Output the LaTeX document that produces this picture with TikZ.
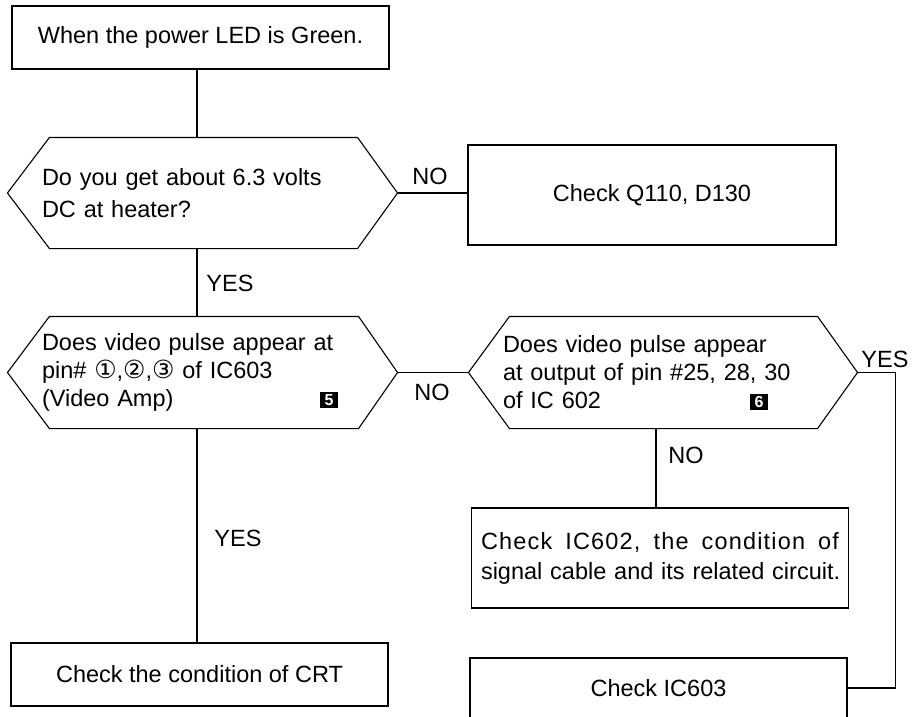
\documentclass[tikz,border=0pt]{standalone}
\usepackage{fontspec}
\setmainfont{Liberation Sans}
\newfontfamily\symfont{DejaVu Sans}
\newcommand\blk[1]{\raisebox{-1pt}{\setlength{\fboxsep}{0pt}\colorbox{black}{\makebox[18pt]{\rule{0pt}{16pt}\raisebox{2pt}{\textcolor{white}{\fontsize{16}{16}\selectfont\bfseries #1}}}}}}
\newcommand\cn[1]{{\symfont\fontsize{25}{25}\selectfont #1}}
\newcommand\hexpath[3]{\draw (#1.west) -- ([xshift=#2]#1.north west) -- ([xshift=-#3]#1.north east) -- (#1.east) -- ([xshift=-#3]#1.south east) -- ([xshift=#2]#1.south west) -- cycle;}
\begin{document}
\begin{tikzpicture}[x=1pt,y=-1pt, line width=1.1pt,
  every node/.style={font=\fontsize{23.5}{29}\selectfont},
  box/.style={draw, inner sep=0pt, align=center},
  hex/.style={inner sep=0pt, align=left},
  lbl/.style={inner sep=0pt}]
\clip (0,0) rectangle (916,717);
\fill[white] (0,0) rectangle (916,717);

\node[box, minimum width=377, minimum height=63] (start) at (200.5,37.5) {When the power LED is Green.};

\node[hex, minimum width=389, minimum height=110, text width=321, font=\fontsize{23.5}{32}\selectfont] (h1) at (202.5,193) {Do you get about 6.3 volts\\DC at heater?};
\hexpath{h1}{42}{40}

\node[box, minimum width=368, minimum height=100] (q110) at (652,195) {Check Q110, D130};

\node[hex, minimum width=389, minimum height=111, text width=321, font=\fontsize{23.5}{28}\selectfont] (h2) at (202.5,372.5) {Does video pulse appear at\\pin\# \cn{①},\cn{②},\cn{③} of IC603\\\makebox[278pt][l]{(Video Amp)}\blk{5}};
\hexpath{h2}{42}{39}

\node[hex, minimum width=388, minimum height=111, text width=320, font=\fontsize{23.5}{28}\selectfont] (h3) at (663,372.5) {Does video pulse appear\\at output of pin \#25, 28, 30\\\makebox[247pt][l]{of IC 602}\blk{6}};
\hexpath{h3}{41}{40}

\node[box, minimum width=377, minimum height=100, text width=358, align=left, font=\fontsize{23.5}{30}\selectfont] (ic602) at (660,558) {\makebox[358pt][l]{\addfontfeatures{LetterSpace=5}Check\hfill IC602,\hfill the\hfill condition\hfill of}\\\makebox[358pt][l]{signal cable and its related circuit.}};

\node[box, minimum width=377, minimum height=60] (ic603) at (658.5,688) {Check IC603};

\node[box, minimum width=377, minimum height=63] (crt) at (199.5,674.5) {Check the condition of CRT};

\coordinate (tx) at (197,0);
\coordinate (tx2) at (656,0);
\draw (start.south -| tx) -- (h1.north -| tx);
\draw (h1.south -| tx) -- (h2.north -| tx);
\draw (h2.south -| tx) -- (crt.north -| tx);
\draw (h1.east) -- (h1.east -| q110.west);
\draw (h2.east) -- (h3.west);
\draw (h3.south -| tx2) -- (ic602.north -| tx2);
\draw (h3.east) -- ++(38,0) |- (ic603.east);

\node[lbl] (no1) at (430,176) {NO};
\node[lbl] (yes1) at (230,283) {YES};
\node[lbl] (no2) at (432,392) {NO};
\node[lbl] (yes2) at (885,359) {YES};
\node[lbl] (no3) at (686,455) {NO};
\node[lbl] (yes3) at (238,538) {YES};
\end{tikzpicture}
\end{document}
